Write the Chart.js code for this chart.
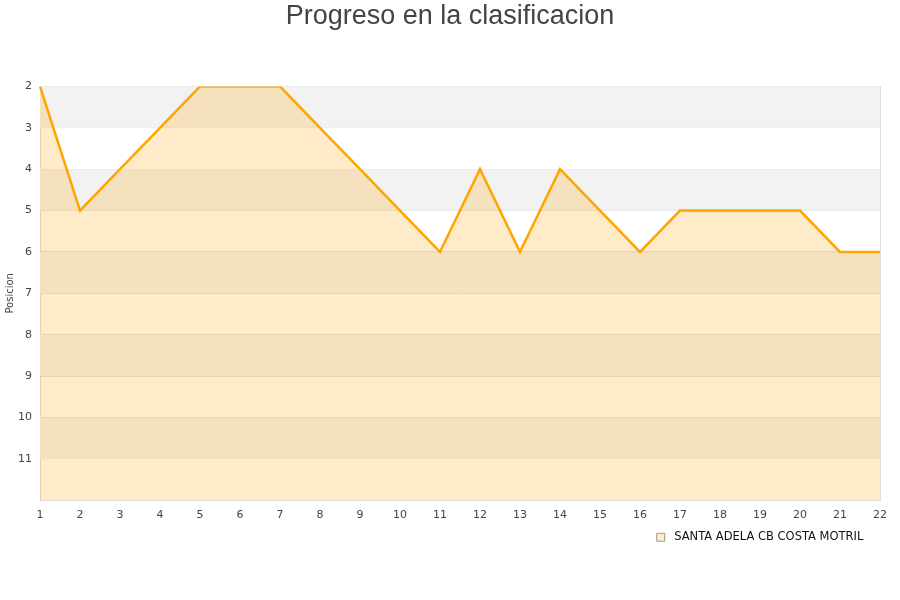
<!DOCTYPE html>
<html lang="es">
<head>
    <meta charset="UTF-8">
    <title>Progreso en la clasificacion</title>
    <style>
        * { margin: 0; padding: 0; box-sizing: border-box; }
        body { background: #fff; width: 900px; height: 600px; overflow: hidden; }
        .chart-container { position: relative; width: 900px; height: 600px; }
    </style>
    <script src="https://cdn.jsdelivr.net/npm/chart.js"></script>
</head>
<body>
<div class="chart-container">
    <canvas id="progressChart"></canvas>
</div>
<script>
    // Jornadas y posicion del equipo
    const jornadas = ['1', '2', '3', '4', '5', '6', '7', '8', '9', '10', '11',
                      '12', '13', '14', '15', '16', '17', '18', '19', '20', '21', '22'];
    const posiciones = [2, 5, 4, 3, 2, 2, 2, 3, 4, 5, 6, 4, 6, 4, 5, 6, 5, 5, 5, 5, 6, 6];
    const equipo = 'SANTA ADELA CB COSTA MOTRIL';
    const posMin = 2;
    const posMax = 12;

    // Alternating horizontal bands behind the data, frame around the plot
    const bandsPlugin = {
        id: 'bands',
        beforeDatasetsDraw(chart) {
            const { ctx, chartArea, scales } = chart;
            const y = scales.y;
            ctx.save();
            for (let v = posMin; v < posMax; v += 2) {
                const top = y.getPixelForValue(v);
                const bottom = y.getPixelForValue(v + 1);
                ctx.fillStyle = '#f2f2f2';
                ctx.fillRect(chartArea.left, top, chartArea.right - chartArea.left, bottom - top);
            }
            ctx.restore();
        },
        afterDatasetsDraw(chart) {
            const { ctx, chartArea } = chart;
            ctx.save();
            ctx.strokeStyle = '#dddddd';
            ctx.lineWidth = 1;
            ctx.beginPath();
            ctx.moveTo(chartArea.right + 0.5, chartArea.top);
            ctx.lineTo(chartArea.right + 0.5, chartArea.bottom);
            ctx.stroke();
            ctx.restore();
        }
    };

    const ctx = document.getElementById('progressChart').getContext('2d');
    new Chart(ctx, {
        type: 'line',
        data: {
            labels: jornadas,
            datasets: [{
                label: equipo,
                data: posiciones,
                borderColor: '#ffa500',
                backgroundColor: 'rgba(255, 165, 0, 0.22)',
                borderWidth: 2.5,
                pointRadius: 0,
                tension: 0,
                fill: { value: posMax }
            }]
        },
        options: {
            responsive: true,
            maintainAspectRatio: false,
            animation: false,
            layout: { padding: { left: 0, right: 0, top: 0, bottom: 47 } },
            scales: {
                x: {
                    offset: false,
                    grid: { display: false, drawTicks: false },
                    border: { color: '#dddddd' },
                    ticks: { color: '#444', font: { family: 'DejaVu Sans', size: 11 }, maxRotation: 0, padding: 8 }
                },
                y: {
                    reverse: true,
                    min: posMin,
                    max: posMax,
                    grid: { color: '#dddddd', drawTicks: false },
                    border: { color: '#dddddd' },
                    ticks: {
                        stepSize: 1,
                        color: '#444',
                        padding: 8,
                        font: { family: 'DejaVu Sans', size: 11 },
                        callback: (v) => (v === posMax ? '' : v)
                    },
                    title: {
                        display: true,
                        text: 'Posicion',
                        color: '#444',
                        font: { family: 'DejaVu Sans', size: 10 },
                        padding: { top: 4, bottom: 0 }
                    },
                    afterFit: (scale) => { scale.width = 40; }
                },
                // empty right gutter so the plot ends at 880px
                y2: {
                    position: 'right',
                    grid: { display: false },
                    border: { display: false },
                    ticks: { display: false },
                    afterFit: (scale) => { scale.width = 20; }
                }
            },
            plugins: {
                title: {
                    display: true,
                    text: 'Progreso en la clasificacion',
                    color: '#444',
                    font: { family: 'Liberation Sans', size: 27, weight: 'normal' },
                    padding: { top: 0, bottom: 54 }
                },
                legend: {
                    position: 'bottom',
                    align: 'end',
                    fullSize: false,
                    labels: {
                        boxWidth: 8,
                        boxHeight: 8,
                        padding: 2,
                        color: '#111',
                        font: { family: 'DejaVu Sans', size: 11.5 },
                        generateLabels: (chart) => {
                            const items = Chart.defaults.plugins.legend.labels.generateLabels(chart);
                            items.forEach(it => {
                                it.strokeStyle = '#999';
                                it.lineWidth = 1;
                                it.text = ' ' + it.text + '    ';
                            });
                            return items;
                        }
                    }
                },
                tooltip: { enabled: false }
            }
        },
        plugins: [bandsPlugin]
    });
</script>
</body>
</html>
